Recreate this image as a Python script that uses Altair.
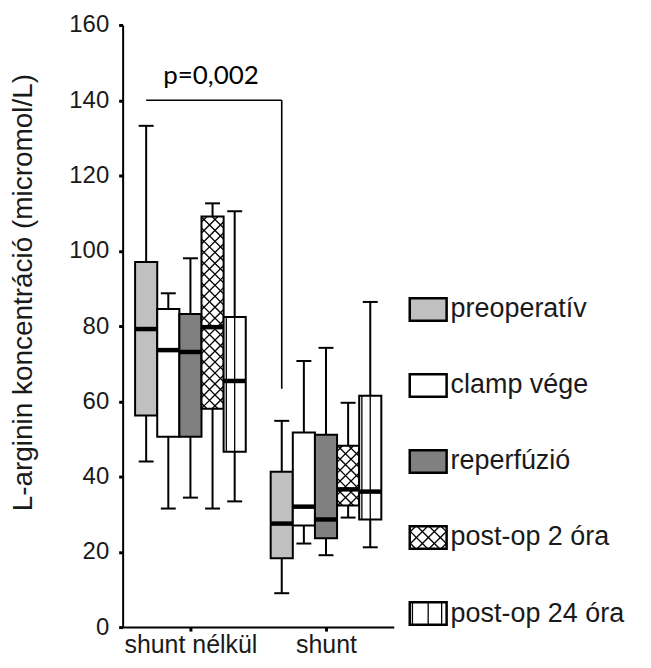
import altair as alt
import pandas as pd

# ---------------- data ----------------
GROUPS = ["shunt nélkül", "shunt"]
SERIES = ["preoperatív", "clamp vége", "reperfúzió", "post-op 2 óra", "post-op 24 óra"]
FILLS = ["#c0c0c0", "#ffffff", "#808080", "#ffffff", "#ffffff"]
PATTERNS = ["none", "none", "none", "cross", "vlines"]

# per group, per series (order of SERIES)
LOW = [[44.0, 31.5, 34.4, 31.5, 33.4], [9.0, 22.2, 19.1, 29.1, 21.2]]
Q1 = [[56.2, 50.6, 50.6, 58.0, 46.6], [18.3, 27.0, 23.6, 32.3, 28.6]]
MED = [[79.2, 73.6, 73.1, 79.7, 65.4], [27.5, 32.0, 28.6, 36.6, 36.0]]
Q3 = [[97.0, 84.5, 83.2, 109.1, 82.4], [41.3, 51.7, 51.1, 48.2, 61.5]]
HIGH = [[133.2, 88.7, 98.0, 112.6, 110.5], [54.8, 70.7, 74.2, 59.6, 86.4]]

P_TEXT = "p=0,002"
BRACKET_Y = 140.0
BRACKET_DROP_TO = 63.3
Y_TICKS = [0, 20, 40, 60, 80, 100, 120, 140, 160]
Y_TITLE = "L-arginin koncentráció (micromol/L)"

# ---------------- layout ----------------
W, H = 272, 604
X_DOM = [0.5, 2.5]
Y_DOM = [0, 160]
PXX = W / (X_DOM[1] - X_DOM[0])   # px per x unit
PXY = H / (Y_DOM[1] - Y_DOM[0])   # px per y unit
BOX_W = 22.2 / PXX
CAP_HALF = 7.5 / PXX
SANS = "Liberation Sans"
TXT = "#1a1a1a"

def x_to_unit(px):
    return px / PXX

def hatch_cross(x0, x1, y0, y1, step=11.0):
    X0, X1, Y0, Y1 = x0 * PXX, x1 * PXX, y0 * PXY, y1 * PXY
    segs = []
    c = X0 + Y0 + step / 2
    while c < X1 + Y1:
        xa, xb = max(X0, c - Y1), min(X1, c - Y0)
        if xb > xa:
            segs.append((xa, c - xa, xb, c - xb))
        c += step
    c = X0 - Y1 + step / 2
    while c < X1 - Y0:
        xa, xb = max(X0, c + Y0), min(X1, c + Y1)
        if xb > xa:
            segs.append((xa, xa - c, xb, xb - c))
        c += step
    return [dict(x=a / PXX, y=b / PXY, x2=cc / PXX, y2=d / PXY) for a, b, cc, d in segs]

def vlines(x0, x1, y0, y1, legend=False):
    xs = [x0 + x_to_unit(2.7), (x0 + x1) / 2]
    if legend:
        xs.append(x1 - x_to_unit(5))
    return [dict(x=x, y=y0, x2=x, y2=y1) for x in xs]

boxes, whiskers, caps, meds, hatch = [], [], [], [], []
for g in range(len(GROUPS)):
    for s in range(len(SERIES)):
        c = g + 1 + (s - 2) * BOX_W
        xl, xr = c - BOX_W / 2, c + BOX_W / 2
        boxes.append(dict(x=xl, x2=xr, y=Q1[g][s], y2=Q3[g][s], fill=FILLS[s]))
        whiskers.append(dict(x=c, x2=c, y=LOW[g][s], y2=HIGH[g][s]))
        caps.append(dict(x=c - CAP_HALF, x2=c + CAP_HALF, y=LOW[g][s], y2=LOW[g][s]))
        caps.append(dict(x=c - CAP_HALF, x2=c + CAP_HALF, y=HIGH[g][s], y2=HIGH[g][s]))
        meds.append(dict(x=xl, x2=xr, y=MED[g][s], y2=MED[g][s]))
        if PATTERNS[s] == "cross":
            hatch += hatch_cross(xl, xr, Q1[g][s], Q3[g][s])
        elif PATTERNS[s] == "vlines":
            hatch += vlines(xl, xr, Q1[g][s], Q3[g][s])

# significance bracket: from preop box of group 1 to preop box of group 2
bx0 = 1 + (0 - 2) * BOX_W
bx1 = 2 + (0 - 2) * BOX_W
bracket = [dict(x=bx0, x2=bx1, y=BRACKET_Y, y2=BRACKET_Y),
           dict(x=bx1, x2=bx1, y=BRACKET_Y, y2=BRACKET_DROP_TO)]
ptext = [dict(x=(bx0 + bx1) / 2 - x_to_unit(3), y=BRACKET_Y + 16 / PXY, t=P_TEXT)]

# legend (drawn in plot coordinates, to the right of the plot)
LEG_X0 = X_DOM[0] + x_to_unit(411 - 123)
LEG_X1 = X_DOM[0] + x_to_unit(448 - 123)
LEG_TX = X_DOM[0] + x_to_unit(452 - 123)
LEG_TOP = 84.4
LEG_STEP = 20.2
LEG_H = 6.0
leg_rects, leg_text = [], []
for s in range(len(SERIES)):
    yc = LEG_TOP - s * LEG_STEP
    y0, y1 = yc - LEG_H / 2, yc + LEG_H / 2
    leg_rects.append(dict(x=LEG_X0, x2=LEG_X1, y=y0, y2=y1, fill=FILLS[s]))
    leg_text.append(dict(x=LEG_TX, y=yc, t=SERIES[s]))
    if PATTERNS[s] == "cross":
        hatch += hatch_cross(LEG_X0, LEG_X1, y0, y1, step=12.0)
    elif PATTERNS[s] == "vlines":
        hatch += vlines(LEG_X0, LEG_X1, y0, y1, legend=True)

# ---------------- encodings ----------------
xscale = alt.Scale(domain=X_DOM, nice=False, zero=False)
yscale = alt.Scale(domain=Y_DOM, nice=False, zero=False)
label_expr = f"datum.value == 1 ? '{GROUPS[0]}' : '{GROUPS[1]}'"
xaxis = alt.Axis(values=[1, 2], labelExpr=label_expr, title=None, grid=False,
                 domainColor="black", domainWidth=2, tickColor="black", tickWidth=3,
                 tickSize=4, labelFont=SANS, labelFontSize=25, labelColor=TXT,
                 labelPadding=2, labelFlush=False, labelOverlap=False)
yaxis = alt.Axis(values=Y_TICKS, title=Y_TITLE, grid=False, domainColor="black",
                 domainWidth=2, tickColor="black", tickWidth=3, tickSize=4,
                 labelFont=SANS, labelFontSize=24, labelColor=TXT, labelPadding=10,
                 titleFont=SANS, titleFontSize=28, titleFontWeight="normal",
                 titleColor=TXT, titleAngle=270, titleX=-99, titleY=268,
                 titleAlign="center", titleBaseline="middle")

def X(f="x"):
    return alt.X(f"{f}:Q", scale=xscale, axis=xaxis)

def Y(f="y"):
    return alt.Y(f"{f}:Q", scale=yscale, axis=yaxis)

def segs(rows, width, color="black", cap="butt"):
    return alt.Chart(pd.DataFrame(rows)).mark_rule(
        color=color, strokeWidth=width, strokeCap=cap
    ).encode(x=X(), x2="x2:Q", y=Y(), y2="y2:Q")

def rects(rows, sw):
    return alt.Chart(pd.DataFrame(rows)).mark_rect(
        stroke="black", strokeWidth=sw
    ).encode(x=X(), x2="x2:Q", y=Y(), y2="y2:Q", fill=alt.Fill("fill:N", scale=None))

layers = [
    segs(whiskers, 2),
    segs(caps, 2),
    rects(boxes, 2),
    rects(leg_rects, 2.5),
    segs(hatch, 1.3),
    segs(meds, 4.5),
    segs(bracket, 1.6),
    alt.Chart(pd.DataFrame(ptext)).mark_text(
        font="Lato", fontSize=26, color="black", align="center", baseline="alphabetic"
    ).encode(x=X(), y=Y(), text="t:N"),
    alt.Chart(pd.DataFrame(leg_text)).mark_text(
        font=SANS, fontSize=27, color=TXT, align="left", baseline="middle"
    ).encode(x=X(), y=Y(), text="t:N"),
]

chart = alt.layer(*layers).properties(
    width=W, height=H,
    autosize=alt.AutoSizeParams(type="none"),
    padding={"left": 115, "top": 16, "right": 250, "bottom": 32},
).configure(background="white").configure_view(strokeWidth=0, stroke="transparent")

chart.save("out.html", embed_options={"renderer": "svg", "actions": False})
